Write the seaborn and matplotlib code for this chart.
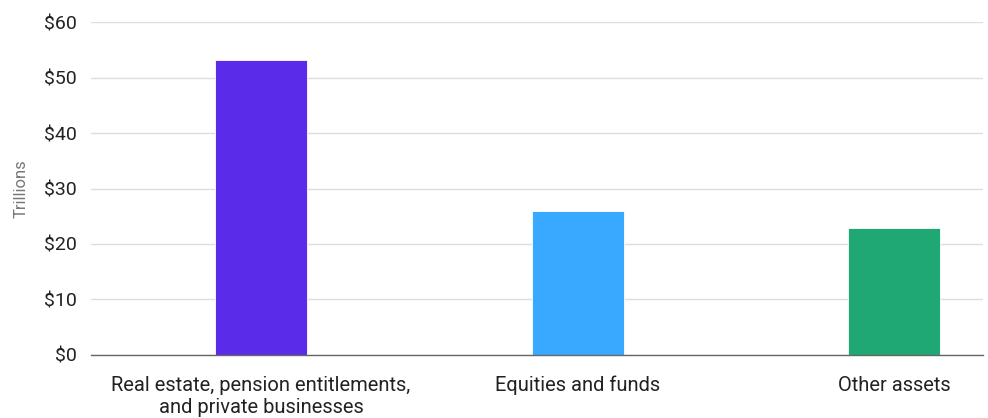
import numpy as np
import pandas as pd
import matplotlib
matplotlib.use("Agg")
import matplotlib.pyplot as plt
import seaborn as sns

categories = ["Real estate, pension entitlements,\nand private businesses",
              "Equities and funds",
              "Other assets"]
values = [53.1, 26.0, 22.8]
colors = ["#5A2BE8", "#39A8FF", "#1FA874"]
y_ticks = [0, 10, 20, 30, 40, 50, 60]

sns.set_theme(style="white")
plt.rcParams['font.family'] = ['Roboto', 'DejaVu Sans']

df = pd.DataFrame({"category": categories, "value": values})

fig = plt.figure(figsize=(9.88, 4.18), dpi=100)
ax = fig.add_axes([0.092, 0.151, 0.903, 0.796])

sns.barplot(data=df, x="category", y="value", hue="category",
            palette=colors, width=0.29, legend=False, ax=ax,
            edgecolor="white", linewidth=0.6, saturation=1)

ax.set_ylim(0, 60)
ax.set_xlim(-0.537, 2.28)
ax.set_yticks(y_ticks)
ax.set_yticklabels([f"${t}" for t in y_ticks])
ax.yaxis.grid(True, color="#dddddd", linewidth=1)
ax.set_axisbelow(True)

for s in ["top", "right", "left"]:
    ax.spines[s].set_visible(False)
ax.spines["bottom"].set_color("#666666")
ax.spines["bottom"].set_linewidth(1)

ax.tick_params(axis="y", length=0, labelsize=14, labelcolor="#222222", pad=10)
ax.tick_params(axis="x", length=0, labelsize=14.5, labelcolor="#222222", pad=15)
ax.set_xlabel("")
ax.set_ylabel("Trillions", fontsize=12, color="#777777", labelpad=11)

fig.savefig("out.png", dpi=100)
